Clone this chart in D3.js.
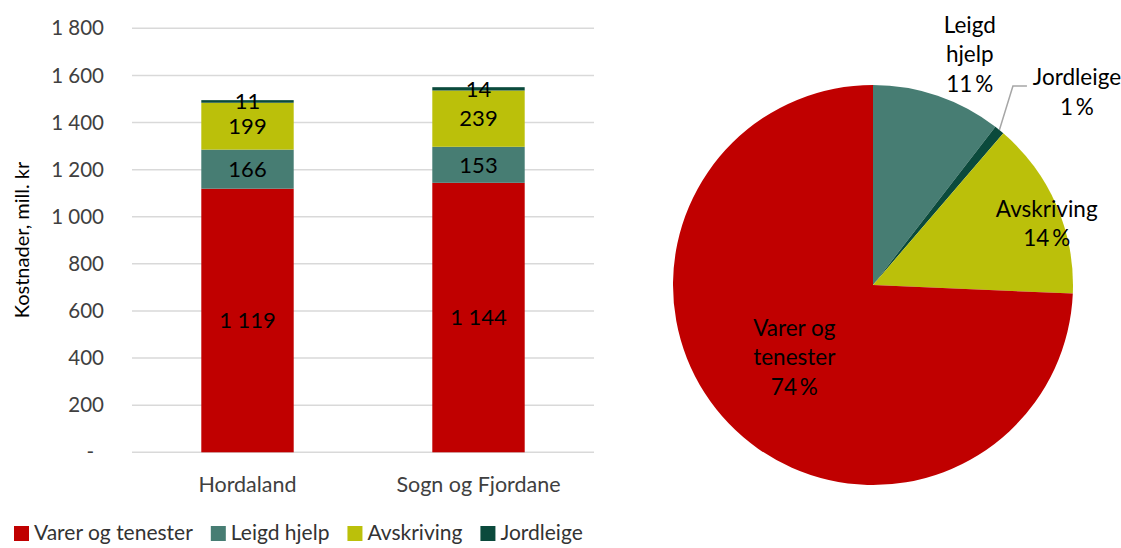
<!DOCTYPE html>
<html>
<head>
<meta charset="utf-8">
<script src="https://cdn.jsdelivr.net/npm/d3@7"></script>
<style>
  body { margin: 0; background: #fff; }
  svg { display: block; font-family: Lato, "Open Sans", sans-serif; }
</style>
</head>
<body>
<svg width="1121" height="548"></svg>
<script>
// data (mill. kr)
var regions = ["Hordaland", "Sogn og Fjordane"];
var series = ["Varer og tenester", "Leigd hjelp", "Avskriving", "Jordleige"];
var varer = [1119, 1144];
var leigd = [166, 153];
var avskriving = [199, 239];
var jordleige = [11, 14];
var yTicks = [0, 200, 400, 600, 800, 1000, 1200, 1400, 1600, 1800];
// pie: slice order clockwise from 12 o'clock and the printed shares
var pieOrder = ["Leigd hjelp", "Jordleige", "Avskriving", "Varer og tenester"];
var pieShares = [11, 1, 14, 74];

var colors = {
  "Varer og tenester": "#c00000",
  "Leigd hjelp": "#477d73",
  "Avskriving": "#bbc00a",
  "Jordleige": "#0b4a3c"
};

var svg = d3.select("svg");

// build a table for the stack
var table = regions.map(function (r, i) {
  return {
    region: r,
    "Varer og tenester": varer[i],
    "Leigd hjelp": leigd[i],
    "Avskriving": avskriving[i],
    "Jordleige": jordleige[i]
  };
});

var x = d3.scaleBand()
  .domain(regions)
  .range([132, 594])
  .paddingInner(0.6)
  .paddingOuter(0.3);

var y = d3.scaleLinear()
  .domain([0, 1800])
  .range([452.3, 28.3]);

var fmtSp = function (v) { return d3.format(",")(v).replace(/,/g, " "); };

// gridlines
svg.append("g")
  .selectAll("line")
  .data(yTicks)
  .enter()
  .append("line")
  .attr("x1", 132)
  .attr("x2", 594)
  .attr("y1", function (d) { return y(d); })
  .attr("y2", function (d) { return y(d); })
  .style("stroke", "#d9d9d9")
  .style("stroke-width", "1.5px");

// y tick labels
svg.append("g")
  .selectAll("text")
  .data(yTicks)
  .enter()
  .append("text")
  .attr("x", function (d) { return d === 0 ? 94 : 104; })
  .attr("y", function (d) { return y(d); })
  .attr("dy", "0.35em")
  .style("text-anchor", "end")
  .style("font-size", "20.5px")
  .style("fill", "#404040")
  .text(function (d) { return d === 0 ? "-" : fmtSp(d); });

// axis title
svg.append("text")
  .attr("transform", "translate(29,240) rotate(-90)")
  .style("text-anchor", "middle")
  .style("font-size", "20px")
  .style("fill", "#000")
  .text("Kostnader, mill. kr");

// stacked bars
var stacked = d3.stack().keys(series)(table);

var layers = svg.append("g")
  .selectAll("g")
  .data(stacked)
  .enter()
  .append("g")
  .style("fill", function (d) { return colors[d.key]; });

layers.selectAll("rect")
  .data(function (d) { return d; })
  .enter()
  .append("rect")
  .attr("x", function (d) { return x(d.data.region); })
  .attr("width", x.bandwidth())
  .attr("y", function (d) { return y(d[1]); })
  .attr("height", function (d) { return y(d[0]) - y(d[1]); });

layers.selectAll("text")
  .data(function (d) { return d; })
  .enter()
  .append("text")
  .attr("x", function (d) { return x(d.data.region) + x.bandwidth() / 2; })
  .attr("y", function (d) { return (y(d[0]) + y(d[1])) / 2; })
  .attr("dy", "0.35em")
  .style("text-anchor", "middle")
  .style("font-size", "22px")
  .style("fill", "#000")
  .text(function (d) { return fmtSp(d[1] - d[0]); });

// category labels
svg.append("g")
  .selectAll("text")
  .data(regions)
  .enter()
  .append("text")
  .attr("x", function (d) { return x(d) + x.bandwidth() / 2; })
  .attr("y", 484)
  .attr("dy", "0.35em")
  .style("text-anchor", "middle")
  .style("font-size", "21.5px")
  .style("fill", "#404040")
  .text(function (d) { return d; });

// legend
var legend = svg.append("g").attr("transform", "translate(14,533)");
var lx = 0;
series.forEach(function (s) {
  var item = legend.append("g").attr("transform", "translate(" + lx + ",0)");
  item.append("rect")
    .attr("x", 0).attr("y", -7)
    .attr("width", 15).attr("height", 15)
    .style("fill", colors[s]);
  var t = item.append("text")
    .attr("x", 20)
    .attr("dy", "0.35em")
    .style("font-size", "21px")
    .style("fill", "#333")
    .text(s);
  lx += 20 + t.node().getComputedTextLength() + 18;
});

// pie of the two regions together
var totals = {
  "Varer og tenester": d3.sum(varer),
  "Leigd hjelp": d3.sum(leigd),
  "Avskriving": d3.sum(avskriving),
  "Jordleige": d3.sum(jordleige)
};

var pie = d3.pie()
  .sort(null)
  .value(function (k) { return totals[k]; });

var radius = 200;
var arc = d3.arc().innerRadius(0).outerRadius(radius);

var pieG = svg.append("g").attr("transform", "translate(873,285)");

var slices = pie(pieOrder);

pieG.selectAll("path")
  .data(slices)
  .enter()
  .append("path")
  .attr("d", arc)
  .style("fill", function (d) { return colors[d.data]; });

// label placement: distance from centre (x radius) and nudges
var labelLayout = {
  "Leigd hjelp": { lines: ["Leigd", "hjelp"], r: 1.25, dx: 16, dy: 6 },
  "Jordleige": { lines: ["Jordleige"], r: 1.4, dx: 27, dy: 24, leader: true },
  "Avskriving": { lines: ["Avskriving"], r: 0.925, dx: 4, dy: 12 },
  "Varer og tenester": { lines: ["Varer og", "tenester"], r: 0.545, dx: 0, dy: -3 }
};

var lineH = 29.5;
slices.forEach(function (d, i) {
  var lay = labelLayout[d.data];
  var a = (d.startAngle + d.endAngle) / 2;
  var cx = Math.sin(a) * radius * lay.r + lay.dx;
  var cy = -Math.cos(a) * radius * lay.r + lay.dy;
  var lines = lay.lines.concat([pieShares[i] + "\u2009%"]);
  var txt = pieG.append("text")
    .style("text-anchor", "middle")
    .style("font-size", "22.5px")
    .style("fill", "#000");
  lines.forEach(function (l, j) {
    txt.append("tspan")
      .attr("x", cx)
      .attr("y", cy + (j - (lines.length - 1) / 2) * lineH + 8)
      .text(l);
  });
  if (lay.leader) {
    var sx = Math.sin(a) * radius, sy = -Math.cos(a) * radius;
    var ex = cx - 50, ey = cy - 6;
    pieG.append("path")
      .attr("d", "M" + sx + "," + sy + "L" + (ex - 14) + "," + ey + "L" + ex + "," + ey)
      .style("fill", "none")
      .style("stroke", "#a6a6a6")
      .style("stroke-width", "1.5px");
  }
});
</script>
</body>
</html>
